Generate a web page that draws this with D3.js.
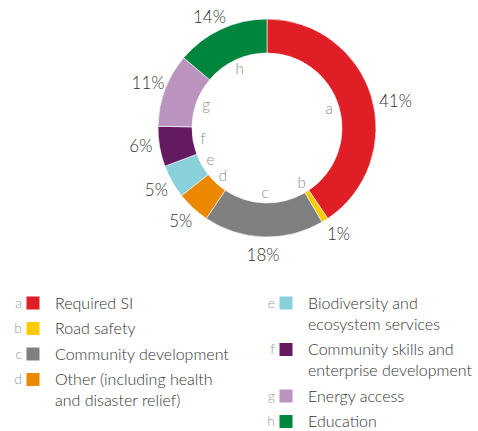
<!DOCTYPE html>
<html>
<head>
<meta charset="utf-8">
<script src="https://cdn.jsdelivr.net/npm/d3@7"></script>
<style>
  html, body { margin: 0; padding: 0; background: #fff; }
  svg text { font-family: Lato, "Open Sans", sans-serif; font-weight: 300; }
</style>
</head>
<body>
<svg id="chart" width="478" height="431"></svg>
<script>
// Social investment spend by theme (%)
const letters = ["a", "b", "c", "d", "e", "f", "g", "h"];
const names = [
  ["Required SI"],
  ["Road safety"],
  ["Community development"],
  ["Other (including health", "and disaster relief)"],
  ["Biodiversity and", "ecosystem services"],
  ["Community skills and", "enterprise development"],
  ["Energy access"],
  ["Education"]
];
const shares = [41, 1, 18, 5, 5, 6, 11, 14];
const colors = ["#e01e25", "#fdcc00", "#808080", "#ec8800", "#89d0db", "#641a61", "#bb93bf", "#00853f"];

const data = letters.map((k, i) => ({ key: k, name: names[i], value: shares[i], color: colors[i] }));

const svg = d3.select("#chart");
const cx = 267, cy = 128, outerR = 109, innerR = 75;

const pie = d3.pie().value(d => d.value).sort(null);
const arcs = pie(data);
const arc = d3.arc().innerRadius(innerR).outerRadius(outerR);
const letterArc = d3.arc().innerRadius(65).outerRadius(65);
const labelArc = d3.arc().innerRadius(127).outerRadius(127);

// small hand adjustments so outer labels clear the ring
const labelNudge = { a: [7, 10], f: [-1, -4], h: [-4, 4], b: [4, -2] };

const g = svg.append("g").attr("transform", `translate(${cx},${cy})`);

g.selectAll("path.slice")
  .data(arcs)
  .join("path")
  .attr("class", "slice")
  .attr("d", arc)
  .attr("fill", d => d.data.color)
  .attr("stroke", "#fff")
  .attr("stroke-width", 0.6);

g.selectAll("text.letter")
  .data(arcs)
  .join("text")
  .attr("class", "letter")
  .attr("transform", d => `translate(${letterArc.centroid(d)})`)
  .attr("text-anchor", "middle")
  .attr("dy", "0.35em")
  .attr("font-size", 15)
  .attr("fill", "#8c8c8c")
  .text(d => d.data.key);

g.selectAll("text.pct")
  .data(arcs)
  .join("text")
  .attr("class", "pct")
  .attr("transform", d => {
    const [x, y] = labelArc.centroid(d);
    const [nx, ny] = labelNudge[d.data.key] || [0, 0];
    return `translate(${x + nx},${y + ny})`;
  })
  .attr("text-anchor", "middle")
  .attr("dy", "0.35em")
  .attr("font-size", 17)
  .attr("fill", "#333")
  .text(d => d.data.value + "%");

// Legend: two columns, wrapped names
const columns = [
  { items: data.slice(0, 4), x: 22 },
  { items: data.slice(4), x: 275 }
];
const lineH = 21, itemGap = 4.5, legendTop = 303;

columns.forEach(col => {
  let y = legendTop;
  col.items.forEach(d => {
    const row = svg.append("g").attr("transform", `translate(${col.x},${y})`);
    row.append("text")
      .attr("x", 0).attr("dy", "0.35em")
      .attr("text-anchor", "end")
      .attr("font-size", 14)
      .attr("fill", "#9a9a9a")
      .text(d.key);
    row.append("rect")
      .attr("x", 4.5).attr("y", -6.5)
      .attr("width", 13).attr("height", 13)
      .attr("fill", d.color);
    const t = row.append("text")
      .attr("font-size", 16)
      .attr("fill", "#333");
    d.name.forEach((line, j) => {
      t.append("tspan")
        .attr("x", 33)
        .attr("y", j * lineH)
        .attr("dy", "0.35em")
        .text(line);
    });
    y += d.name.length * lineH + itemGap;
  });
});
</script>
</body>
</html>
